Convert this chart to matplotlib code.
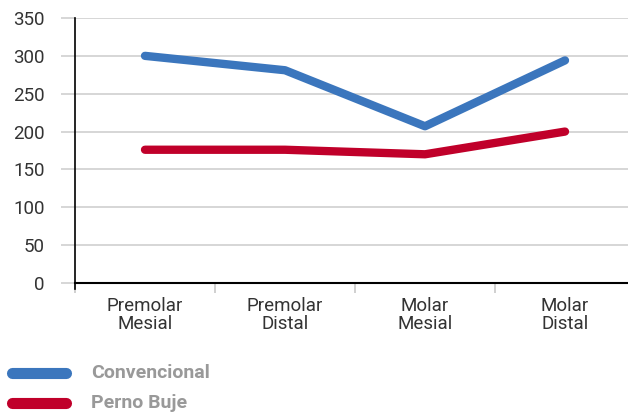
import matplotlib.pyplot as plt
from matplotlib.lines import Line2D

plt.rcParams['font.family'] = ['Roboto', 'DejaVu Sans']

# data
categories = ["Premolar\nMesial", "Premolar\nDistal", "Molar\nMesial", "Molar\nDistal"]
series_names = ["Convencional", "Perno Buje"]
convencional = [300, 281, 207, 294]
perno_buje = [176, 176, 170, 200]
y_ticks = [0, 50, 100, 150, 200, 250, 300, 350]

blue = '#3b76bd'
red = '#c0002a'
colors = [blue, red]

fig = plt.figure(figsize=(6.28, 4.13), dpi=100)
W, H = 628, 413
# axes: spine at x=75, y=0 at 283px, y=350 at 18px, categories 140px wide
ax = fig.add_axes([75 / W, 1 - 283 / H, 560 / W, (283 - 18) / H])

x = list(range(len(categories)))
for vals, c in zip([convencional, perno_buje], colors):
    ax.plot(x, vals, color=c, lw=6, solid_capstyle='round', solid_joinstyle='round', zorder=3)

ax.set_xlim(-0.5, len(categories) - 0.5)
ax.set_ylim(0, 350)
ax.set_yticks(y_ticks)
ax.set_yticklabels([str(v) for v in y_ticks])
ax.yaxis.grid(True, color='#d0d0d0', lw=1.2)
ax.set_axisbelow(True)

ax.set_xticks(x)
ax.set_xticklabels(categories, linespacing=1.0)
ax.set_xticks([i - 0.5 for i in range(len(categories) + 1)], minor=True)
ax.tick_params(axis='x', which='major', length=0, pad=10, labelsize=13.5, labelcolor='#333333')
ax.tick_params(axis='x', which='minor', length=7, color='#c8c8c8', width=1.2)
ax.tick_params(axis='y', length=10, color='#d0d0d0', width=1.2, pad=12, labelsize=13.5, labelcolor='#333333')

for s in ['top', 'right']:
    ax.spines[s].set_visible(False)
ax.spines['left'].set_color('black')
ax.spines['left'].set_linewidth(1.2)
ax.spines['bottom'].set_color('black')
ax.spines['bottom'].set_linewidth(1.5)
ax.spines['left'].set_bounds(-8, 350)

# legend drawn by hand below the plot
for i, (name, c) in enumerate(zip(series_names, colors)):
    yc = 1 - (373 + 30 * i) / H
    fig.add_artist(Line2D([12 / W, 66 / W], [yc, yc], transform=fig.transFigure,
                          color=c, lw=8, solid_capstyle='round'))
    fig.text(91 / W, yc, name, va='center', ha='left', fontsize=14,
             fontweight='bold', color='#999999')

fig.savefig('out.png', dpi=100)
